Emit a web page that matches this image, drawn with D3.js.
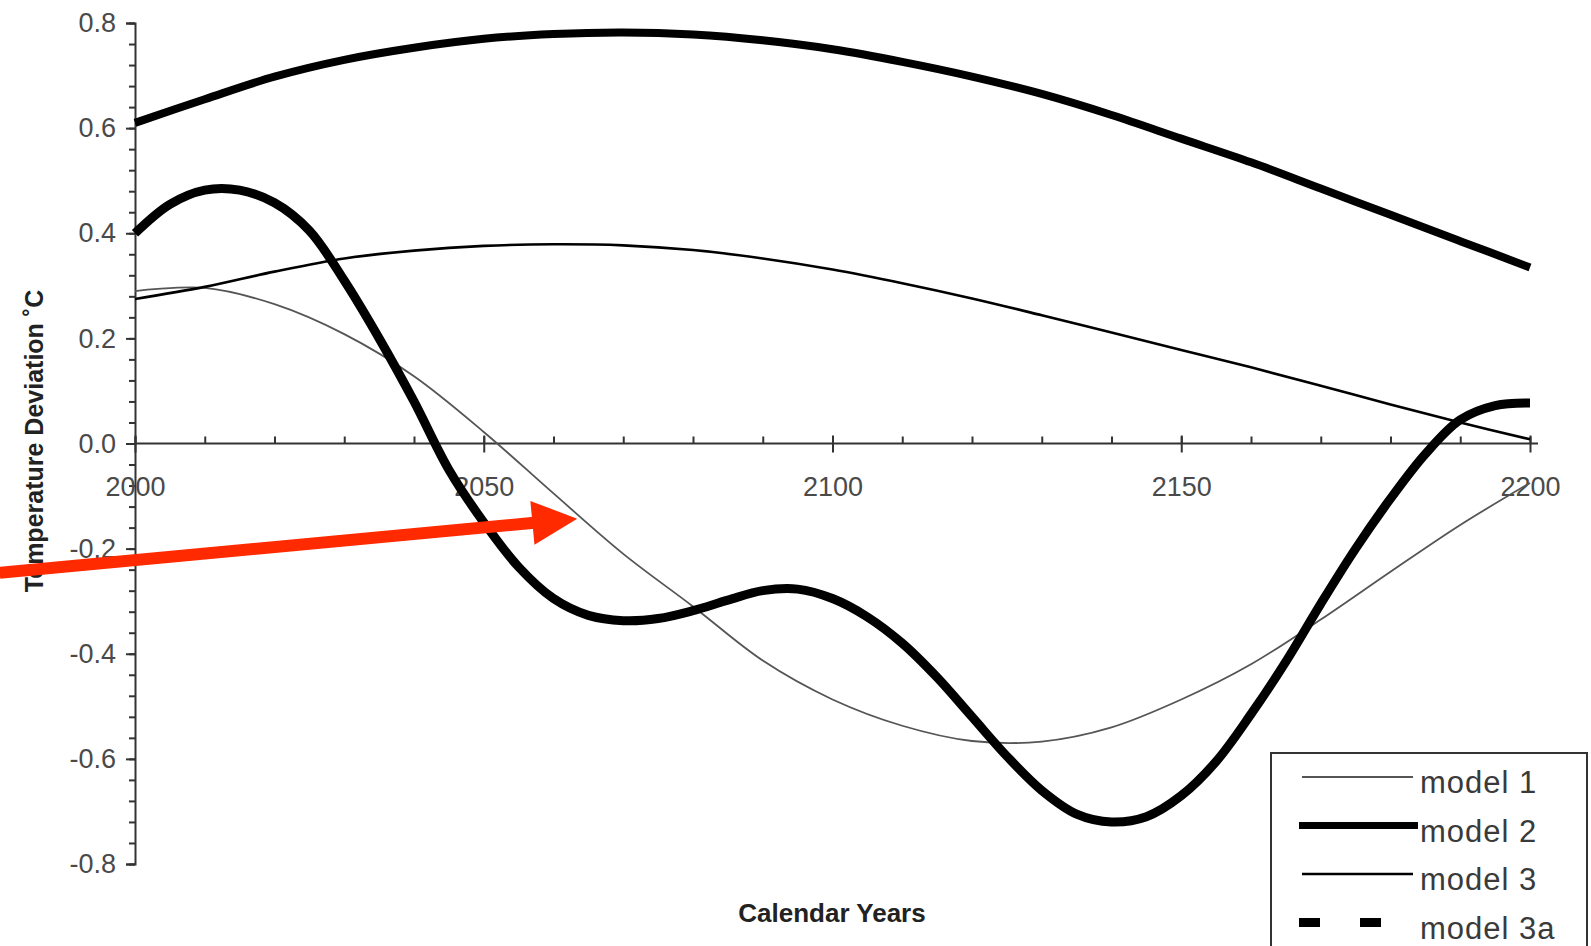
<!DOCTYPE html>
<html>
<head>
<meta charset="utf-8">
<script src="https://cdn.jsdelivr.net/npm/d3@7"></script>
<style>
  body { margin: 0; background: #fff; }
  svg { display: block; font-family: "Liberation Sans", Arial, sans-serif; }
  .axis path, .axis line { stroke: #333; stroke-width: 2; }
  .axis text { fill: #4a4a4a; font-size: 27px; }
</style>
</head>
<body>
<div class="graph-container"></div>
<script>
// values
const years10 = [2000, 2010, 2020, 2030, 2040, 2050, 2060, 2070, 2080, 2090, 2100,
                 2110, 2120, 2130, 2140, 2150, 2160, 2170, 2180, 2190, 2200];
const model1 = [0.29, 0.296, 0.265, 0.208, 0.128, 0.022, -0.095, -0.21, -0.31, -0.413, -0.487,
                -0.537, -0.566, -0.567, -0.54, -0.487, -0.42, -0.335, -0.244, -0.155, -0.075];
const model2 = [0.61, 0.655, 0.698, 0.73, 0.753, 0.77, 0.779, 0.782, 0.778, 0.767, 0.75,
                0.726, 0.698, 0.665, 0.625, 0.58, 0.535, 0.485, 0.435, 0.385, 0.335];
const model3 = [0.275, 0.298, 0.327, 0.352, 0.367, 0.376, 0.379, 0.377, 0.368, 0.352, 0.331,
                0.305, 0.276, 0.244, 0.211, 0.178, 0.145, 0.11, 0.074, 0.04, 0.008];

const years5 = [2000, 2005, 2010, 2015, 2020, 2025, 2030, 2035, 2040, 2045, 2050, 2055, 2060,
                2065, 2070, 2075, 2080, 2085, 2090, 2095, 2100, 2105, 2110, 2115, 2120, 2125,
                2130, 2135, 2140, 2145, 2150, 2155, 2160, 2165, 2170, 2175, 2180, 2185, 2190,
                2195, 2200];
const model3a = [0.40, 0.455, 0.482, 0.482, 0.458, 0.405, 0.31, 0.20, 0.08, -0.05, -0.15, -0.235,
                 -0.295, -0.327, -0.337, -0.333, -0.318, -0.298, -0.28, -0.277, -0.295, -0.33,
                 -0.38, -0.445, -0.52, -0.595, -0.66, -0.705, -0.72, -0.71, -0.67, -0.605, -0.515,
                 -0.415, -0.305, -0.2, -0.105, -0.02, 0.045, 0.072, 0.077];

const yMajor = [-0.8, -0.6, -0.4, -0.2, 0.0, 0.2, 0.4, 0.6, 0.8];
const xMajor = [2000, 2050, 2100, 2150, 2200];
const legendLabels = ['model 1', 'model 2', 'model 3', 'model 3a'];

// red arrow, tail off the left edge, tip on model 1
const arrowTail = {year: 1980.6, value: -0.246};
const arrowTip = {year: 2063.4, value: -0.143};

const width = 1591, height = 946;

const svg = d3.select('.graph-container')
              .append('svg')
              .attr('width', width)
              .attr('height', height);

const x = d3.scaleLinear().domain([2000, 2200]).range([135, 1530]);
const y = d3.scaleLinear().domain([-0.8, 0.8]).range([864, 23]);

// y axis: minor ticks every 0.04, major every 0.2
svg.append('g')
   .attr('class', 'axis')
   .attr('transform', `translate(${x(2000)},0)`)
   .call(d3.axisLeft(y).tickValues(d3.range(-40, 41, 2).map(d => d / 50))
           .tickSize(6).tickFormat(''))
   .call(g => g.select('.domain').remove());

svg.append('g')
   .attr('class', 'axis')
   .attr('transform', `translate(${x(2000)},0)`)
   .call(d3.axisLeft(y).tickValues(yMajor).tickSize(9).tickSizeOuter(9)
           .tickPadding(10).tickFormat(d => d.toFixed(1)));

// x axis at zero: minor ticks up every 10 years, major ticks crossing
svg.append('g')
   .attr('class', 'axis')
   .attr('transform', `translate(0,${y(0)})`)
   .call(d3.axisTop(x).tickValues(years10).tickSize(7).tickFormat(''))
   .call(g => g.select('.domain').remove());

svg.append('g')
   .attr('class', 'axis x-axis')
   .attr('transform', `translate(0,${y(0)})`)
   .call(d3.axisBottom(x).tickValues(xMajor).tickSize(9).tickSizeOuter(0)
           .tickFormat(d3.format('d')))
   .call(g => g.select('.domain').attr('d', `M${x(2000)},0H${x(2200) + 8}`))
   .call(g => g.selectAll('.tick line').attr('y1', -8))
   .call(g => g.selectAll('.tick text').attr('y', 52).attr('dy', 0));

// axis titles
svg.append('text')
   .attr('transform', 'translate(43,441) rotate(-90)')
   .attr('text-anchor', 'middle')
   .style('font-weight', 'bold')
   .style('font-size', '25px')
   .attr('fill', '#222')
   .text('Temperature Deviation ˚C');

svg.append('text')
   .attr('x', 832)
   .attr('y', 922)
   .attr('text-anchor', 'middle')
   .style('font-weight', 'bold')
   .style('font-size', '26px')
   .attr('fill', '#222')
   .text('Calendar Years');

// curves
const series = [
  {xs: years10, ys: model1, color: '#555', w: 1.8},
  {xs: years10, ys: model3, color: '#000', w: 2.6},
  {xs: years10, ys: model2, color: '#000', w: 8},
  {xs: years5, ys: model3a, color: '#000', w: 9}
];

const line = d3.line()
               .x(d => x(d[0]))
               .y(d => y(d[1]))
               .curve(d3.curveCatmullRom.alpha(0.5));

svg.append('g')
   .attr('class', 'plot')
   .selectAll('path')
   .data(series)
   .join('path')
   .attr('d', s => line(s.xs.map((v, i) => [v, s.ys[i]])))
   .attr('fill', 'none')
   .attr('stroke', s => s.color)
   .attr('stroke-width', s => s.w);

// arrow
const ax0 = x(arrowTail.year), ay0 = y(arrowTail.value);
const ax1 = x(arrowTip.year), ay1 = y(arrowTip.value);
const ang = Math.atan2(ay1 - ay0, ax1 - ax0);
const headLen = 45, headHalf = 22;
const bx = ax1 - headLen * Math.cos(ang), by = ay1 - headLen * Math.sin(ang);

svg.append('line')
   .attr('x1', ax0).attr('y1', ay0)
   .attr('x2', bx + 2 * Math.cos(ang)).attr('y2', by + 2 * Math.sin(ang))
   .attr('stroke', '#ff2a00')
   .attr('stroke-width', 12);

svg.append('path')
   .attr('d', `M${ax1},${ay1}` +
              `L${bx - headHalf * Math.sin(ang)},${by + headHalf * Math.cos(ang)}` +
              `L${bx + headHalf * Math.sin(ang)},${by - headHalf * Math.cos(ang)}Z`)
   .attr('fill', '#ff2a00');

// legend
const legend = svg.append('g').attr('class', 'legend');

legend.append('rect')
      .attr('x', 1271).attr('y', 753)
      .attr('width', 316).attr('height', 220)
      .attr('fill', '#fff')
      .attr('stroke', '#333')
      .attr('stroke-width', 2);

const legendStyles = [
  {color: '#555', w: 2, x0: 1302, x1: 1413, dash: null},
  {color: '#000', w: 7, x0: 1299, x1: 1418, dash: null},
  {color: '#000', w: 2.6, x0: 1302, x1: 1413, dash: null},
  {color: '#000', w: 9, x0: 1299, x1: 1381, dash: '21,40'}
];

const rows = legend.selectAll('g.row')
                   .data(legendLabels)
                   .join('g')
                   .attr('class', 'row')
                   .attr('transform', (d, i) => `translate(0,${777 + i * 48.5})`);

rows.append('line')
    .attr('x1', (d, i) => legendStyles[i].x0)
    .attr('x2', (d, i) => legendStyles[i].x1)
    .attr('stroke', (d, i) => legendStyles[i].color)
    .attr('stroke-width', (d, i) => legendStyles[i].w)
    .attr('stroke-dasharray', (d, i) => legendStyles[i].dash);

rows.append('text')
    .attr('x', 1420)
    .attr('y', 16)
    .style('font-size', '31px')
    .style('letter-spacing', '1px')
    .attr('fill', '#3a3a3a')
    .text(d => d);
</script>
</body>
</html>
